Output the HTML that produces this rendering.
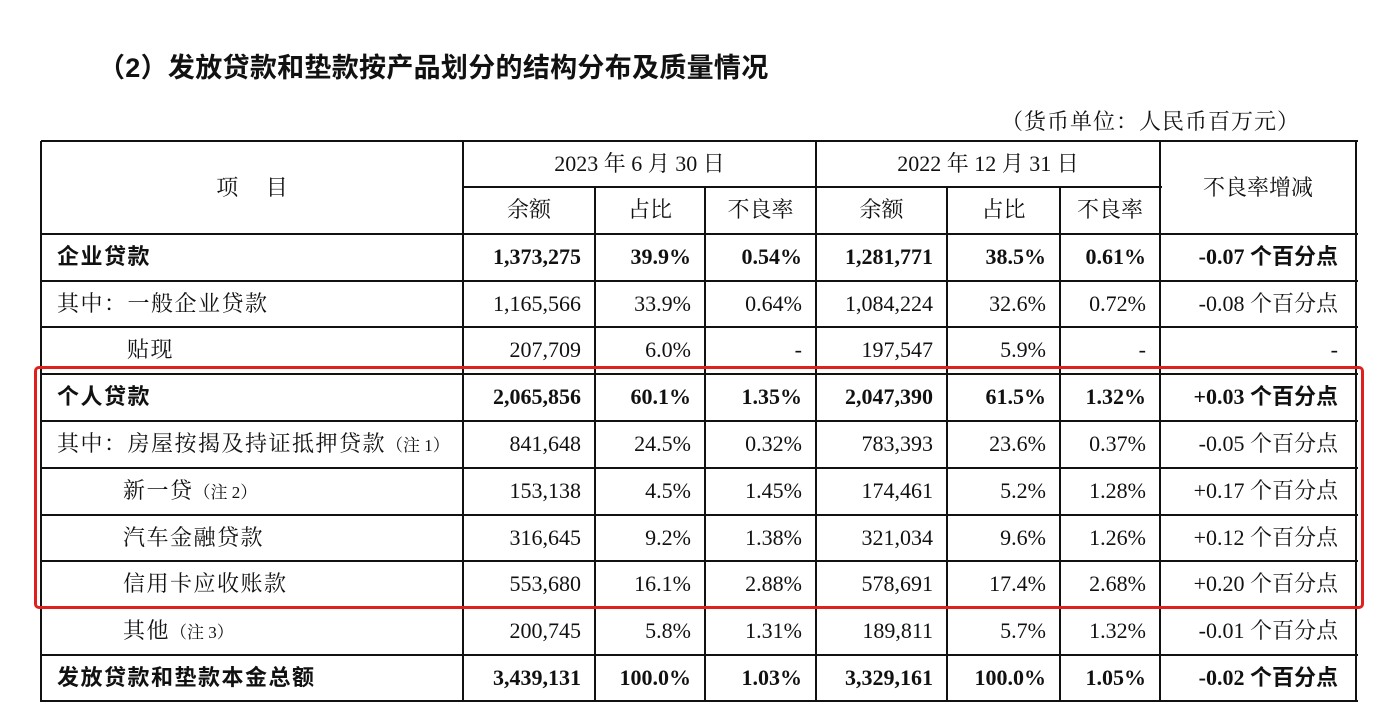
<!DOCTYPE html>
<html><head><meta charset="utf-8"><style>
body{margin:0;width:1390px;height:716px;background:#fff;position:relative;overflow:hidden;font-family:"Liberation Serif","Noto Serif CJK SC",serif;color:#111}
.t{position:absolute;font-size:22px;line-height:46px;white-space:nowrap}
.h{position:absolute;background:#111;height:2px}
.v{position:absolute;background:#111;width:2px}
.b{font-weight:bold}
.bc{font-family:"Liberation Serif","Noto Sans CJK SC",sans-serif;font-weight:bold}
.lab{letter-spacing:1.5px}
</style></head><body>
<div style="position:absolute;left:98px;top:46px;font-size:27px;letter-spacing:0.3px;font-weight:bold;font-family:'Liberation Sans','Noto Sans CJK SC',sans-serif">（2）发放贷款和垫款按产品划分的结构分布及质量情况</div>
<div style="position:absolute;right:90px;top:105px;font-size:22px;letter-spacing:1px">（货币单位：人民币百万元）</div>
<div id="tbl"></div>
<div style="position:absolute;left:34px;top:366px;width:1324px;height:237px;border:3px solid #e0201e;border-radius:5px"></div>
<script>
const cols=[41,463,595,705,816,947,1060,1160,1356];
const rowsY=[141,187,234,281,327,374,421,468,515,561,608,655,701];
const labels=["企业贷款","其中：一般企业贷款","贴现","个人贷款","其中：房屋按揭及持证抵押贷款<span style='font-size:17px;letter-spacing:0'>（注 1）</span>","新一贷<span style='font-size:17px;letter-spacing:0'>（注 2）</span>","汽车金融贷款","信用卡应收账款","其他<span style='font-size:17px;letter-spacing:0'>（注 3）</span>","发放贷款和垫款本金总额"];
const indent=[16,16,86,16,16,82,82,82,82,16];
const bold=[1,0,0,1,0,0,0,0,0,1];
const bal2023=["1,373,275","1,165,566","207,709","2,065,856","841,648","153,138","316,645","553,680","200,745","3,439,131"];
const share2023=["39.9%","33.9%","6.0%","60.1%","24.5%","4.5%","9.2%","16.1%","5.8%","100.0%"];
const npl2023=["0.54%","0.64%","-","1.35%","0.32%","1.45%","1.38%","2.88%","1.31%","1.03%"];
const bal2022=["1,281,771","1,084,224","197,547","2,047,390","783,393","174,461","321,034","578,691","189,811","3,329,161"];
const share2022=["38.5%","32.6%","5.9%","61.5%","23.6%","5.2%","9.6%","17.4%","5.7%","100.0%"];
const npl2022=["0.61%","0.72%","-","1.32%","0.37%","1.28%","1.26%","2.68%","1.32%","1.05%"];
const change=["-0.07","-0.08","-","+0.03","-0.05","+0.17","+0.12","+0.20","-0.01","-0.02"];
const T=document.getElementById('tbl');
function add(cls,st,html,name){const d=document.createElement('div');d.className=cls;d.setAttribute('style',st);if(html!=null)d.innerHTML=html;


T.appendChild(d);return d;}
rowsY.forEach((y,i)=>{let x0=cols[0],x1=cols[8];if(i==1){x0=cols[1];x1=cols[7];}add('h',`left:${x0}px;top:${y-1}px;width:${x1-x0+2}px`,null,'row-line');});
cols.forEach((x,i)=>{let y0=rowsY[0];if([2,3,5,6].includes(i))y0=rowsY[1];add('v',`left:${x-1}px;top:${y0}px;height:${rowsY[12]-y0+1}px`,null,'col-line');});
add('t',`left:${cols[0]}px;width:${cols[1]-cols[0]}px;top:${rowsY[0]}px;line-height:93px;text-align:center`,'项&emsp;&nbsp;目','header-item');
add('t',`left:${cols[1]}px;width:${cols[4]-cols[1]}px;top:${rowsY[0]}px;text-align:center`,'2023 年 6 月 30 日','header-2023');
add('t',`left:${cols[4]}px;width:${cols[7]-cols[4]}px;top:${rowsY[0]}px;text-align:center`,'2022 年 12 月 31 日','header-2022');
add('t',`left:${cols[7]}px;width:${cols[8]-cols[7]}px;top:${rowsY[0]}px;line-height:93px;text-align:center`,'不良率增减','header-change');
["余额","占比","不良率","余额","占比","不良率"].forEach((s,i)=>add('t',`left:${cols[i+1]}px;width:${cols[i+2]-cols[i+1]}px;top:${rowsY[1]}px;text-align:center`,s,'subheader'));
const data=[bal2023,share2023,npl2023,bal2022,share2022,npl2022];
labels.forEach((lab,r)=>{const y=rowsY[r+2];const b=bold[r];
add('t lab'+(b?' bc':''),`left:${cols[0]+indent[r]}px;top:${y}px`,lab,'row-label');
data.forEach((arr,c)=>add('t'+(b?' b':''),`left:${cols[c+1]}px;width:${cols[c+2]-cols[c+1]-14}px;top:${y}px;text-align:right`,arr[r],'cell-value'));
const ch=change[r]=='-'?'-':change[r]+(b?' <span class="bc">个百分点</span>':' 个百分点');
add('t'+(b?' b':''),`left:${cols[7]}px;width:${cols[8]-cols[7]-18}px;top:${y}px;text-align:right`,ch,'cell-change');
});
</script>
</body></html>
